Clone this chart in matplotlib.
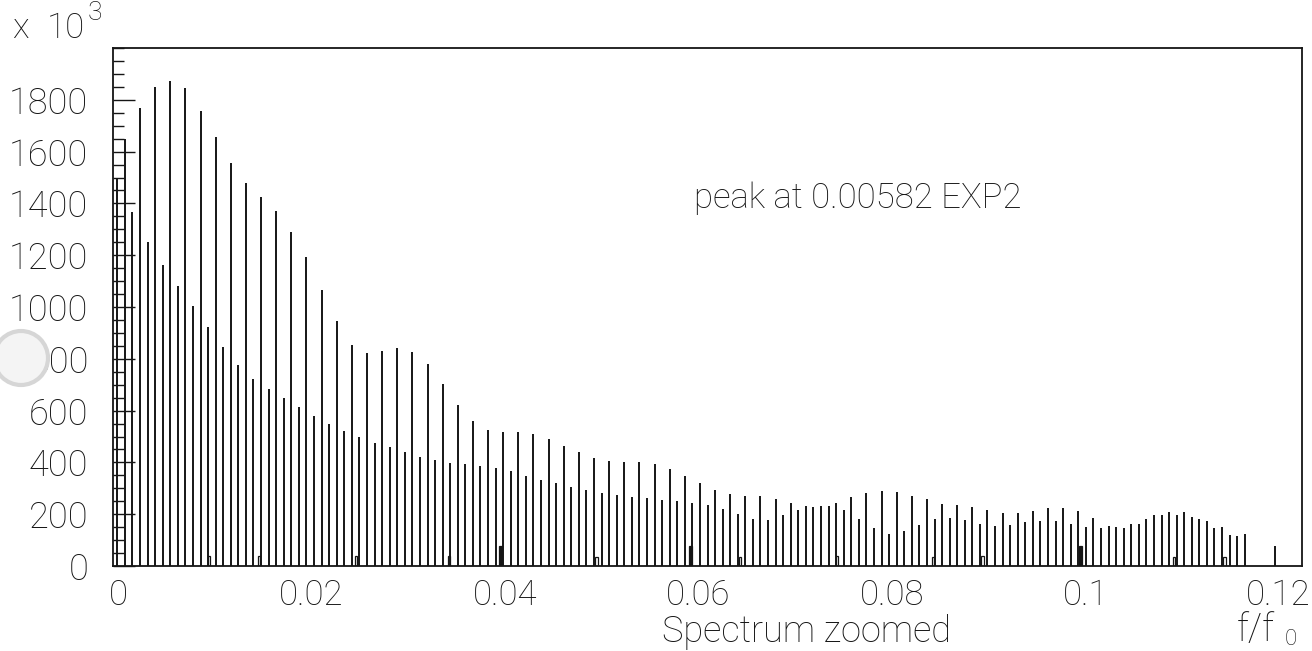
import numpy as np
import matplotlib
matplotlib.use("Agg")
import matplotlib.pyplot as plt
from matplotlib.patches import Rectangle, Circle
from matplotlib.ticker import MultipleLocator

plt.rcParams['font.family'] = ['Roboto', 'Liberation Sans', 'DejaVu Sans']
plt.rcParams['font.weight'] = 'light'

# Spectrum amplitudes (units of 10^3), one value per frequency bin
amplitude = [
    1500, 1647, 1367, 1769, 1252, 1851, 1164, 1874, 1081, 1844,
    1003, 1756, 924, 1655, 845, 1556, 776, 1478, 721, 1425,
    682, 1370, 649, 1291, 613, 1193, 581, 1066, 547, 945,
    521, 855, 498, 824, 476, 831, 461, 841, 442, 828,
    421, 778, 408, 704, 397, 623, 393, 561, 387, 525,
    379, 517, 365, 517, 349, 509, 333, 491, 320, 465,
    306, 439, 293, 417, 283, 406, 274, 402, 266, 401,
    261, 393, 255, 374, 250, 348, 244, 321, 237, 294,
    219, 279, 201, 271, 180, 270, 179, 259, 195, 244,
    215, 233, 229, 232, 232, 243, 215, 266, 180, 283,
    147, 291, 124, 284, 134, 269, 160, 257, 180, 241,
    187, 237, 178, 228, 161, 216, 155, 206, 159, 205,
    168, 212, 175, 223, 172, 224, 161, 214, 150, 186,
    145, 156, 152, 147, 164, 164, 182, 195, 195, 210,
    196, 207, 189, 183, 174, 148, 150, 118, 115, 125,
    0, 0, 0, 77,
]

# Secondary harmonic markers near the baseline
marker_freq = [0.00965, 0.0147, 0.0245, 0.0339, 0.0391, 0.0488, 0.0583,
               0.0633, 0.0731, 0.0828, 0.0878, 0.0977, 0.1071, 0.1122]
marker_amp = [40, 40, 38, 38, 77, 36, 77, 36, 38, 36, 40, 77, 36, 36]

x_ticks = [0, 0.02, 0.04, 0.06, 0.08, 0.1, 0.12]
x_ticklabels = ['0', '0.02', '0.04', '0.06', '0.08', '0.1', '0.12']
y_ticks = [0, 200, 400, 600, 800, 1000, 1200, 1400, 1600, 1800]
y_ticklabels = [str(v) for v in y_ticks]

N_BINS = 157
F_MAX = 0.12
bin_width = F_MAX / N_BINS
centers = (np.arange(len(amplitude)) + 0.5) * bin_width

W, H = 1312, 651
fig = plt.figure(figsize=(W / 100, H / 100), dpi=100)
left, right, top, bottom = 113.5, 1301.5, 48, 566
ax = fig.add_axes([left / W, 1 - bottom / H, (right - left) / W, (bottom - top) / H])

ink = '#151515'
ax.vlines(centers, 0, amplitude, colors=ink, lw=1.4)

mw = 0.00025
for f, a in zip(marker_freq, marker_amp):
    filled = a > 60
    ax.add_patch(Rectangle((f - mw / 2, 0), mw, a, facecolor=ink if filled else 'none',
                           edgecolor=ink, lw=0.9))

ax.set_xlim(0, F_MAX)
ax.set_ylim(0, 2000)

for s in ax.spines.values():
    s.set_linewidth(1.3)
    s.set_color(ink)

ax.set_yticks(y_ticks)
ax.set_yticklabels(y_ticklabels)
ax.yaxis.set_minor_locator(MultipleLocator(50))
ax.tick_params(axis='y', which='major', direction='in', length=16, width=1.0,
               pad=18, labelsize=26, colors=ink)
ax.tick_params(axis='y', which='minor', direction='in', length=8, width=1.0, colors=ink)
ax.set_xticks([])

# Frequency labels sit on a slightly compressed scale relative to the bins
lab_off, lab_scale = 0.000455, 0.977
sec = ax.secondary_xaxis('bottom', functions=(lambda x: (x - lab_off) / lab_scale,
                                              lambda v: lab_off + lab_scale * v))
sec.set_xticks(x_ticks)
sec.set_xticklabels(x_ticklabels)
sec.tick_params(length=0, pad=9, labelsize=25, colors=ink)
sec.spines['bottom'].set_visible(False)

fig.text(12 / W, 1 - 38 / H, 'x', fontsize=25, color=ink, ha='left', va='baseline')
fig.text(47 / W, 1 - 38 / H, '10', fontsize=25, color=ink, ha='left', va='baseline')
fig.text(88 / W, 1 - 20 / H, '3', fontsize=19, color=ink, ha='left', va='baseline')

ax.text(0.0586, 1420, 'peak at 0.00582 EXP2', fontsize=25, color=ink, ha='left', va='center')

fig.text(806 / W, 1 - 642 / H, 'Spectrum zoomed', fontsize=26, color=ink, ha='center', va='baseline')
fig.text(1237 / W, 1 - 641 / H, 'f/f', fontsize=27, color=ink, ha='left', va='baseline')
fig.text(1285 / W, 1 - 645 / H, '0', fontsize=16, color=ink, ha='left', va='baseline')

# Punched hole in the paper at the left margin
fig.patches.append(Circle((21, H - 358), 27, transform=None,
                          facecolor='#f4f4f4', edgecolor='#d6d6d6', lw=3, zorder=10))

fig.savefig('out.png', dpi=100, facecolor='white')
